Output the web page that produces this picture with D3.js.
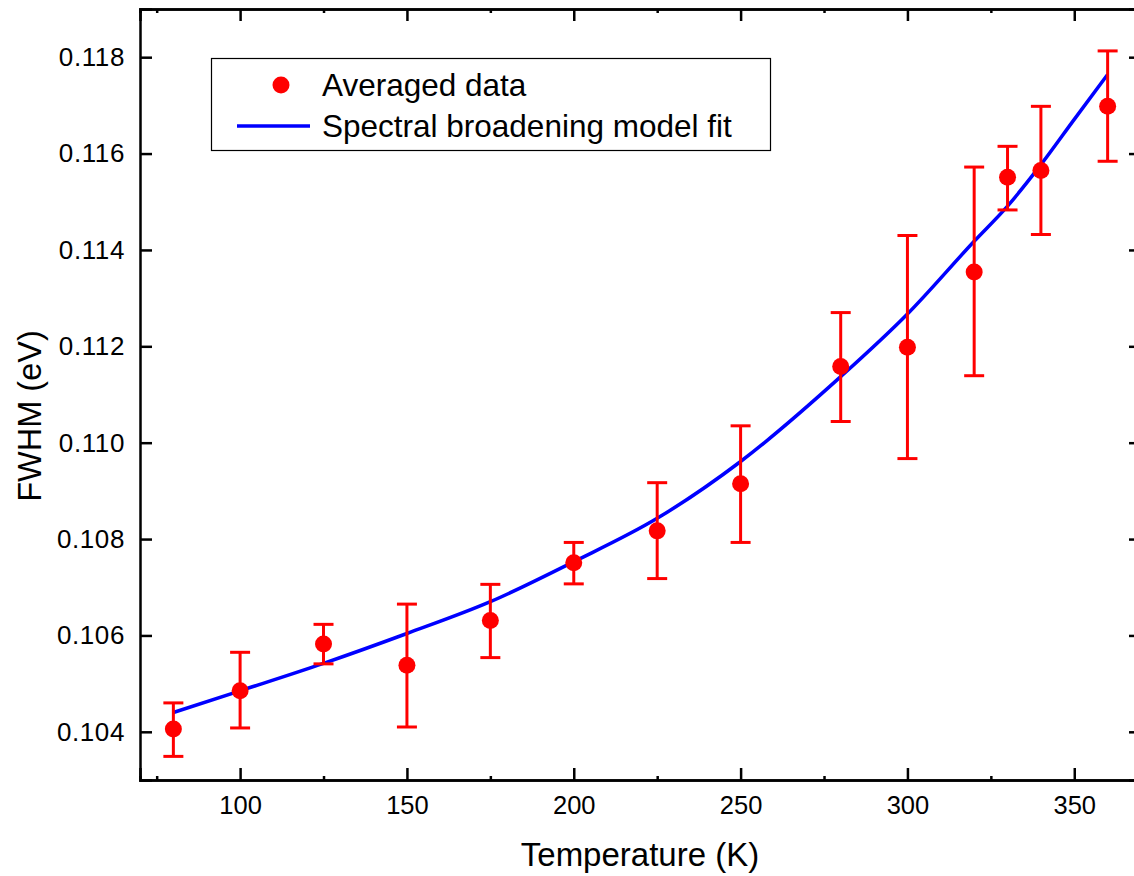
<!DOCTYPE html>
<html>
<head>
<meta charset="utf-8">
<script src="https://cdn.jsdelivr.net/npm/d3@7"></script>
<style>
  body { margin: 0; background: #fff; }
  svg { display: block; font-family: "Liberation Sans", Arial, sans-serif; }
</style>
</head>
<body>
<svg id="chart" width="1134" height="876"></svg>
<script>
// averaged data (temperature in K, FWHM in eV)
const temps = [80, 100, 125, 150, 175, 200, 225, 250, 280, 300, 320, 330, 340, 360]
const fwhm = [0.10406, 0.10485, 0.10582, 0.10538, 0.10631, 0.10751, 0.10817, 0.10915, 0.11158, 0.11198, 0.11354, 0.11551, 0.11565, 0.11698]
const errLow = [0.10349, 0.10408, 0.10541, 0.10410, 0.10554, 0.10707, 0.10718, 0.10793, 0.11044, 0.10967, 0.11139, 0.11483, 0.11432, 0.11584]
const errHigh = [0.10460, 0.10565, 0.10623, 0.10665, 0.10706, 0.10793, 0.10917, 0.11035, 0.11270, 0.11430, 0.11572, 0.11615, 0.11698, 0.11813]

// fit curve
const fitT = [80, 100, 125, 150, 175, 200, 225, 250, 280, 300, 320, 330, 340, 350, 360]
const fitY = [0.10440, 0.10485, 0.10542, 0.10604, 0.10670, 0.10753, 0.10843, 0.10961, 0.11137, 0.11267, 0.11418, 0.11491, 0.11577, 0.11671, 0.11764]

const xTicks = [100, 150, 200, 250, 300, 350]
const yTicks = [0.104, 0.106, 0.108, 0.110, 0.112, 0.114, 0.116, 0.118]

const plotLeft = 140, plotRight = 1141, plotTop = 9, plotBottom = 780

const svg = d3.select("#chart")

let x = d3.scaleLinear().domain([70, 370]).range([plotLeft, plotRight])
let y = d3.scaleLinear().domain([0.103, 0.119]).range([plotBottom, plotTop])

// fit line
const line = d3.line().x((d, i) => x(fitT[i])).y(d => y(d)).curve(d3.curveMonotoneX)
svg.append("path")
    .datum(fitY)
    .attr("d", line)
    .attr("fill", "none")
    .attr("stroke", "#0000ff")
    .attr("stroke-width", 3.5)

// error bars
const eb = svg.append("g").attr("stroke", "#ff0000").attr("stroke-width", 3)
temps.forEach((t, i) => {
    eb.append("line").attr("x1", x(t)).attr("x2", x(t)).attr("y1", y(errLow[i])).attr("y2", y(errHigh[i]))
    eb.append("line").attr("x1", x(t) - 10).attr("x2", x(t) + 10).attr("y1", y(errLow[i])).attr("y2", y(errLow[i]))
    eb.append("line").attr("x1", x(t) - 10).attr("x2", x(t) + 10).attr("y1", y(errHigh[i])).attr("y2", y(errHigh[i]))
})

svg.append("g").selectAll("circle")
    .data(fwhm)
    .enter()
    .append("circle")
    .attr("cx", (d, i) => x(temps[i]))
    .attr("cy", d => y(d))
    .attr("r", 8.5)
    .attr("fill", "#ff0000")

// axes - ticks point inward
let xAxis = d3.axisBottom(x).tickValues(xTicks).tickSize(-12).tickPadding(16).tickFormat(d3.format("d"))
let gx = svg.append("g").attr("transform", `translate(0,${plotBottom})`).call(xAxis)
let yAxis = d3.axisLeft(y).tickValues(yTicks).tickSize(-12).tickPadding(15).tickFormat(d3.format(".3f"))
let gy = svg.append("g").attr("transform", `translate(${plotLeft},0)`).call(yAxis)
svg.append("g").attr("transform", `translate(0,${plotTop})`).call(d3.axisTop(x).tickValues(xTicks).tickSize(-12).tickFormat(""))
svg.append("g").attr("transform", `translate(${plotRight},0)`).call(d3.axisRight(y).tickValues(yTicks).tickSize(-12).tickFormat(""))

// minor ticks on x
const minor = [75, 125, 175, 225, 275, 325]
svg.append("g").attr("transform", `translate(0,${plotBottom})`).call(d3.axisBottom(x).tickValues(minor).tickSize(-4).tickFormat(""))
svg.append("g").attr("transform", `translate(0,${plotTop})`).call(d3.axisTop(x).tickValues(minor).tickSize(-4).tickFormat(""))

svg.selectAll(".domain").attr("stroke", "#000").attr("stroke-width", 2.5)
svg.selectAll(".tick line").attr("stroke", "#000").attr("stroke-width", 2.5)
svg.selectAll(".tick text").attr("font-family", "Liberation Sans, Arial, sans-serif").attr("fill", "#000")
gx.selectAll(".tick text").attr("font-size", 25.5)
gy.selectAll(".tick text").attr("font-size", 26).attr("letter-spacing", 0.6)

// axis titles
svg.append("text")
    .attr("x", 640).attr("y", 866)
    .attr("text-anchor", "middle")
    .attr("font-size", 33)
    .text("Temperature (K)")
svg.append("text")
    .attr("transform", "translate(41,416) rotate(-90)")
    .attr("text-anchor", "middle")
    .attr("font-size", 32.5)
    .text("FWHM (eV)")

// legend
const legend = svg.append("g")
legend.append("rect")
    .attr("x", 211.5).attr("y", 58.5).attr("width", 559).attr("height", 92)
    .attr("fill", "#fff").attr("stroke", "#000").attr("stroke-width", 1.2)
legend.append("circle").attr("cx", 281).attr("cy", 85).attr("r", 8.5).attr("fill", "#ff0000")
legend.append("line").attr("x1", 237).attr("x2", 310).attr("y1", 126).attr("y2", 126)
    .attr("stroke", "#0000ff").attr("stroke-width", 3.5)
legend.append("text").attr("x", 322).attr("y", 96).attr("font-size", 31.5).text("Averaged data")
legend.append("text").attr("x", 322).attr("y", 137).attr("font-size", 31.5).text("Spectral broadening model fit")
</script>
</body>
</html>
